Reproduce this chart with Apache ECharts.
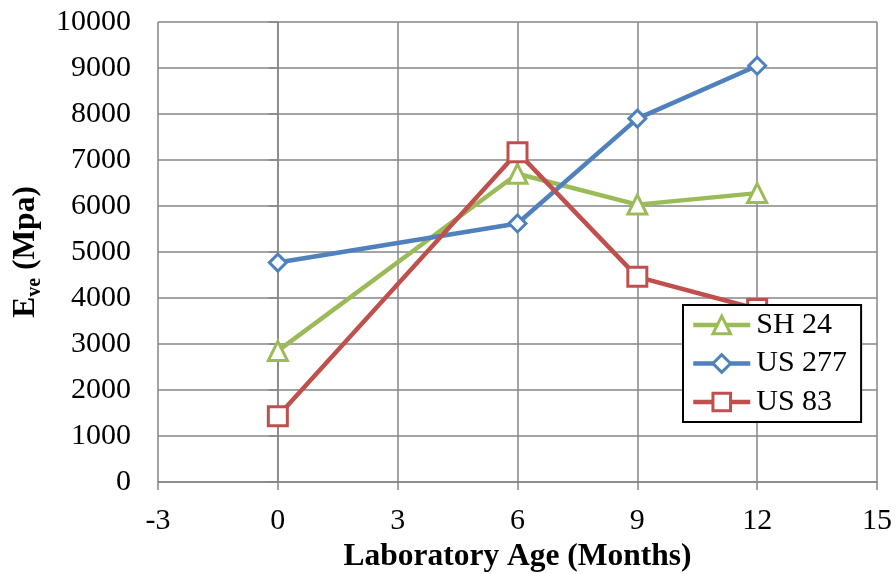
<!DOCTYPE html>
<html><head><meta charset="utf-8">
<script src="https://cdn.jsdelivr.net/npm/echarts@6/dist/echarts.min.js"></script>
<style>html,body{margin:0;padding:0;background:#fff}#c{width:896px;height:574px}</style>
</head><body><div id="c"></div>
<script>
const ages = [0, 6, 9, 12];
const sh24 = [2850, 6700, 6030, 6280];
const us277 = [4770, 5620, 7900, 9050];
const us83 = [1430, 7170, 4460, 3760];
const seriesNames = ['SH 24', 'US 277', 'US 83'];
const xTitle = 'Laboratory Age (Months)';

const font = 'Liberation Serif';
const grid = '#868686';
const chart = echarts.init(document.getElementById('c'));
function mk(name, vals, color, symbol, size) {
  return {
    name, type: 'line', data: ages.map((a, i) => [a, vals[i]]),
    symbol, symbolSize: size,
    lineStyle: { color, width: 4.5 },
    itemStyle: { color: '#fff', borderColor: color, borderWidth: 3 },
    emphasis: { disabled: true }, animation: false
  };
}
chart.setOption({
  animation: false,
  grid: { left: 158, right: 19, top: 22, bottom: 92, containLabel: false, outerBoundsMode: 'none' },
  xAxis: {
    type: 'value', min: -3, max: 15, interval: 3,
    axisLine: { show: true, onZero: false, lineStyle: { color: grid, width: 1.5 } },
    axisTick: { show: true, length: 8, lineStyle: { color: grid, width: 1.5 } },
    splitLine: { show: true, lineStyle: { color: grid, width: 1.5 } },
    axisLabel: { color: '#000', fontFamily: font, fontSize: 30, margin: 24 },
    name: xTitle, nameLocation: 'middle', nameGap: 57,
    nameTextStyle: { color: '#000', fontFamily: font, fontSize: 31.5, fontWeight: 'bold' }
  },
  yAxis: {
    type: 'value', min: 0, max: 10000, interval: 1000,
    axisLine: { show: true, lineStyle: { color: grid, width: 1.5 } },
    axisTick: { show: true, length: 9, lineStyle: { color: grid, width: 1.5 } },
    splitLine: { show: true, lineStyle: { color: grid, width: 1.5 } },
    axisLabel: { color: '#000', fontFamily: font, fontSize: 30, margin: 27, formatter: v => String(v) },
    name: '{m|E}{s|ve}{m| (Mpa)}', nameLocation: 'middle', nameGap: 112, nameRotate: 90,
    nameTextStyle: {
      rich: {
        m: { color: '#000', fontFamily: font, fontSize: 31.5, fontWeight: 'bold', lineHeight: 38 },
        s: { color: '#000', fontFamily: font, fontSize: 20, fontWeight: 'bold', lineHeight: 23, verticalAlign: 'bottom' }
      }
    }
  },
  legend: {
    orient: 'vertical', left: 683, top: 305,
    data: seriesNames,
    backgroundColor: '#fff', borderColor: '#000', borderWidth: 2, borderRadius: 0,
    padding: [5, 14, 5, 8], itemGap: 8.5, itemWidth: 57, itemHeight: 22,
    lineStyle: { width: 4.5 },
    itemStyle: { borderWidth: 3 },
    textStyle: { color: '#000', fontFamily: font, fontSize: 30, lineHeight: 30, padding: [0, 0, 0, 1] },
    selectedMode: false
  },
  series: [
    mk('SH 24', sh24, '#9BBB59', 'triangle', 19),
    mk('US 277', us277, '#4F81BD', 'diamond', 17),
    mk('US 83', us83, '#C0504D', 'rect', 19)
  ]
});
</script></body></html>
